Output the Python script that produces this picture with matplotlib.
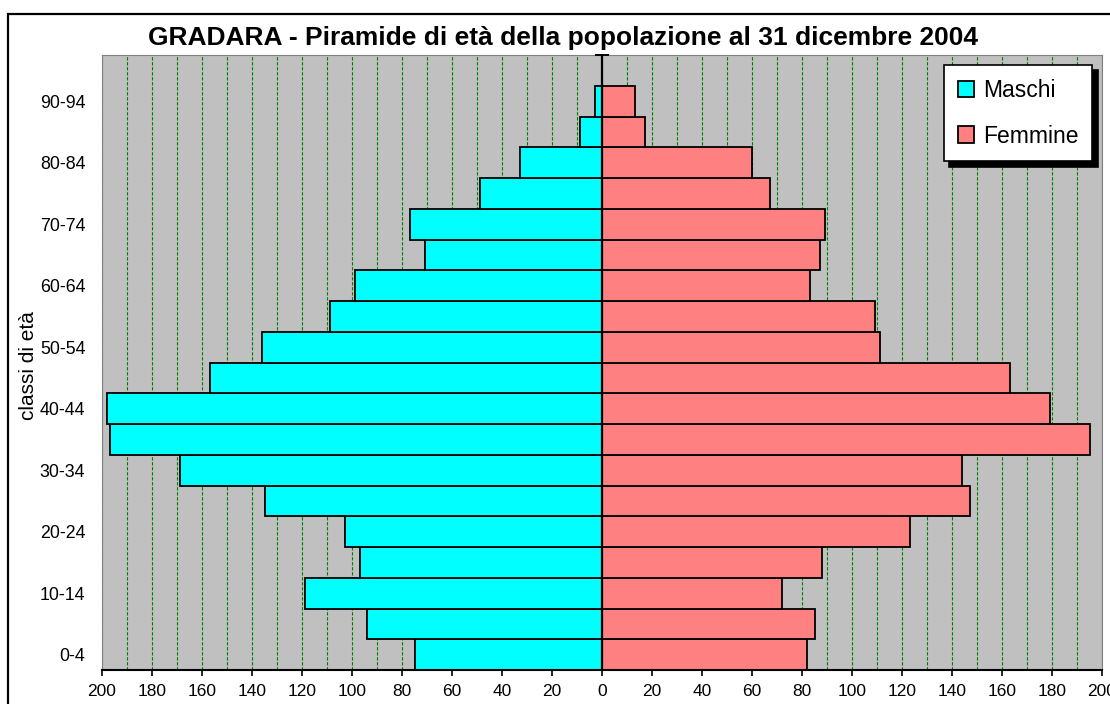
import numpy as np
import matplotlib
matplotlib.use("Agg")
import matplotlib.pyplot as plt
from matplotlib.patches import Rectangle

plt.rcParams["font.family"] = ["Liberation Sans", "DejaVu Sans"]

# age classes, bottom to top (top class is empty in the source)
classi = ["0-4", "5-9", "10-14", "15-19", "20-24", "25-29", "30-34", "35-39",
          "40-44", "45-49", "50-54", "55-59", "60-64", "65-69", "70-74",
          "75-79", "80-84", "85-89", "90-94", "95-99"]
maschi = [75, 94, 119, 97, 103, 135, 169, 197, 198, 157, 136, 109, 99, 71, 77,
          49, 33, 9, 3, 0]
femmine = [82, 85, 72, 88, 123, 147, 144, 195, 179, 163, 111, 109, 83, 87, 89,
           67, 60, 17, 13, 0]
xticks = list(range(-200, 201, 20))

W, H = 1110, 704
fig = plt.figure(figsize=(W / 100, H / 100), dpi=100)
ax = fig.add_axes([102 / W, 34 / H, 1000 / W, 615 / H])
ax.set_facecolor("#C0C0C0")

y = np.arange(len(classi))
ax.barh(y, -np.array(maschi), height=1.0, color="#00FFFF", edgecolor="black",
        lw=1.3, label="Maschi", zorder=2)
ax.barh(y, femmine, height=1.0, color="#FF8080", edgecolor="black",
        lw=1.3, label="Femmine", zorder=2)
ax.axvline(0, color="black", lw=1.6, zorder=3)
ax.plot([-2.3, 2.3], [len(classi) - 0.5] * 2, color="black", lw=1.4,
        clip_on=False, zorder=4)

ax.set_xlim(-200, 200)
ax.set_ylim(-0.5, len(classi) - 0.5)
ax.set_xticks(xticks)
ax.set_xticklabels([str(abs(v)) for v in xticks], fontsize=12.5)
ax.set_xticks(range(-200, 201, 10), minor=True)
ax.tick_params(axis="x", which="major", length=4, width=1.2, pad=6)
ax.tick_params(axis="x", which="minor", length=0)
ax.set_yticks(y[::2])
ax.set_yticklabels(classi[::2], fontsize=12.8)
ax.tick_params(axis="y", length=0, pad=12)
ax.grid(True, which="both", axis="x", color="#008000", lw=0.8,
        linestyle=(0, (3, 1.5)))
ax.set_axisbelow(True)
for s in ("left", "top", "right"):
    ax.spines[s].set_color("#808080")
    ax.spines[s].set_linewidth(0.8)
ax.spines["bottom"].set_color("black")
ax.spines["bottom"].set_linewidth(1.5)

leg = ax.legend(loc="upper right", bbox_to_anchor=(0.99, 0.984), borderaxespad=0,
                fontsize=16.5, fancybox=False, framealpha=1, edgecolor="black",
                handlelength=0.7, handleheight=0.7, handletextpad=0.4,
                labelspacing=1.0, borderpad=0.6,
                shadow={"ox": 4, "oy": -4, "facecolor": "black",
                        "edgecolor": "black", "alpha": 1})
leg.get_frame().set_linewidth(1.2)

fig.text(563 / W, 1 - 38 / H,
         "GRADARA - Piramide di età della popolazione al 31 dicembre 2004",
         ha="center", va="center", fontsize=19, weight="bold")
fig.text(28 / W, 1 - 366 / H, "classi di età", rotation=90, ha="center",
         va="center", fontsize=15)
fig.patches.append(Rectangle((7.5 / W, -0.1), 1.2, 1.1 - 13.5 / H,
                             transform=fig.transFigure, fill=False,
                             ec="black", lw=1.6))

fig.savefig("out.png", dpi=100)
